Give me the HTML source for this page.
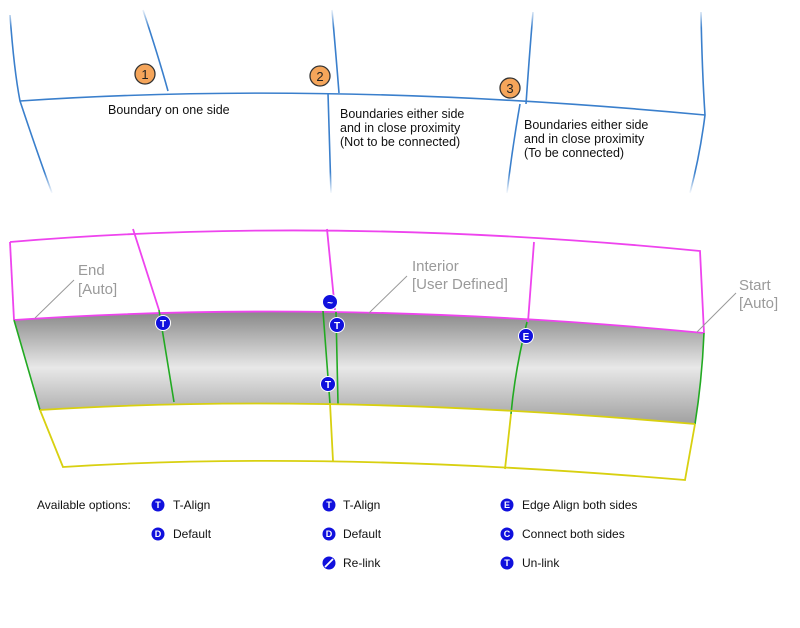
<!DOCTYPE html>
<html><head><style>body{margin:0;background:#fff}svg{display:block}</style></head><body>
<svg width="800" height="628" viewBox="0 0 800 628" xmlns="http://www.w3.org/2000/svg" font-family="Liberation Sans, sans-serif">
<defs>
<linearGradient id="band" x1="0" y1="0" x2="0" y2="1">
<stop offset="0" stop-color="#888"/><stop offset="0.5" stop-color="#e8e8e8"/><stop offset="1" stop-color="#a0a0a0"/></linearGradient>
<linearGradient id="fd" x1="0" y1="0" x2="0" y2="200" gradientUnits="userSpaceOnUse"><stop offset="0.04" stop-color="#000"/><stop offset="0.14" stop-color="#fff"/><stop offset="0.86" stop-color="#fff"/><stop offset="0.97" stop-color="#000"/></linearGradient>
<mask id="m"><rect x="0" y="0" width="800" height="200" fill="url(#fd)"/></mask>
</defs>
<g fill="none" stroke="#3a7fcc" stroke-width="1.6" mask="url(#m)">
<path d="M20,101 Q330,80 705,115"/>
<path d="M10,15 Q14,70 20,101 Q38,155 52,193"/>
<path d="M143,10 Q158,55 168,91"/>
<path d="M332,10 Q336,55 339,93 M328,93 L331,193"/>
<path d="M533,12 Q529,60 526,104 M520,104 Q512,150 507,193"/>
<path d="M701,12 Q702,70 705,115 Q700,155 690,193"/>
</g>
<g fill="#f5a55a" stroke="#333" stroke-width="1.3">
<circle cx="145" cy="74" r="10"/><circle cx="320" cy="76" r="10"/><circle cx="510" cy="88" r="10"/></g>
<g font-size="13" text-anchor="middle" fill="#222"><text x="145" y="79">1</text><text x="320" y="81">2</text><text x="510" y="93">3</text></g>
<g font-size="12.5" fill="#111">
<text x="108" y="114">Boundary on one side</text>
<text x="340" y="118">Boundaries either side</text><text x="340" y="132">and in close proximity</text><text x="340" y="146">(Not to be connected)</text>
<text x="524" y="129">Boundaries either side</text><text x="524" y="143">and in close proximity</text><text x="524" y="157">(To be connected)</text>
</g>
<path d="M14,320 Q340,298 704,333 Q702,380 695,424 Q330,392 40,410 Z" fill="url(#band)"/>
<g fill="none" stroke="#ee44ee" stroke-width="1.8">
<path d="M10,242 Q330,215 700,251 L704,333"/>
<path d="M10,242 L14,320"/>
<path d="M133,229 L159,310 M327,229 L335,310 M534,242 L528,322"/>
<path d="M14,320 Q340,298 704,333"/>
</g>
<g fill="none" stroke="#22aa22" stroke-width="1.6">
<path d="M14,320 L40,410"/><path d="M704,333 Q702,380 695,424"/>
<path d="M159,310 L174,402 M323,311 L330,404 M336,312 L338,404 M527,322 Q515,370 511,414"/>
</g>
<g fill="none" stroke="#d8d010" stroke-width="1.8">
<path d="M40,410 Q330,392 695,424"/>
<path d="M40,410 L63,467 Q330,450 685,480 L695,424"/>
<path d="M330,403 L333,461 M511,414 L505,469"/>
</g>
<g stroke="#999" stroke-width="1"><path d="M74,280 L35,318 M407,276 L369,313 M736,293 L697,332"/></g>
<g font-size="15" fill="#9a9a9a">
<text x="78" y="275">End</text><text x="78" y="294">[Auto]</text>
<text x="412" y="271">Interior</text><text x="412" y="289">[User Defined]</text>
<text x="739" y="290">Start</text><text x="739" y="308">[Auto]</text>
</g>
<g fill="#1010dd" stroke="#fff" stroke-width="1">
<circle cx="163" cy="323" r="7.5"/><circle cx="337" cy="325" r="7.5"/><circle cx="328" cy="384" r="7.5"/><circle cx="330" cy="302" r="7.5"/><circle cx="526" cy="336" r="7.5"/>
</g>
<g font-size="10" font-weight="bold" fill="#fff" text-anchor="middle">
<text x="163" y="327">T</text><text x="337" y="329">T</text><text x="328" y="388">T</text><text x="330" y="306">~</text><text x="526" y="340">E</text>
</g>
<g font-size="12" fill="#111">
<text x="37" y="509">Available options:</text>
<text x="173" y="509">T-Align</text><text x="173" y="538">Default</text>
<text x="343" y="509">T-Align</text><text x="343" y="538">Default</text><text x="343" y="567">Re-link</text>
<text x="522" y="509">Edge Align both sides</text><text x="522" y="538">Connect both sides</text><text x="522" y="567">Un-link</text>
</g>
<g fill="#1010dd">
<circle cx="158" cy="505" r="6.5"/><circle cx="158" cy="534" r="6.5"/>
<circle cx="329" cy="505" r="6.5"/><circle cx="329" cy="534" r="6.5"/><circle cx="329" cy="563" r="6.5"/>
<circle cx="507" cy="505" r="6.5"/><circle cx="507" cy="534" r="6.5"/><circle cx="507" cy="563" r="6.5"/>
</g>
<g font-size="9" font-weight="bold" fill="#fff" text-anchor="middle">
<text x="158" y="508">T</text><text x="158" y="537">D</text>
<text x="329" y="508">T</text><text x="329" y="537">D</text>
<text x="507" y="508">E</text><text x="507" y="537">C</text><text x="507" y="566">T</text>
</g>
<path d="M325,567 L333,559" stroke="#fff" stroke-width="1.8"/>
</svg>
</body></html>
